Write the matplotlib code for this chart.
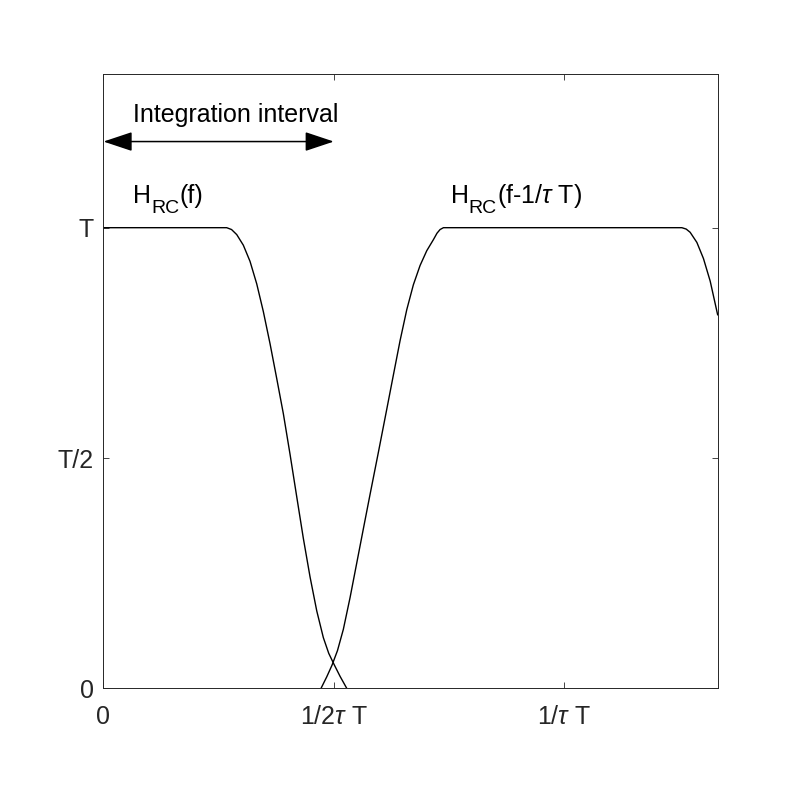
import numpy as np
import matplotlib.pyplot as plt

plt.rcParams['font.family'] = ['Liberation Sans', 'DejaVu Sans']
plt.rcParams['mathtext.fontset'] = 'custom'
plt.rcParams['mathtext.rm'] = 'Liberation Sans'
plt.rcParams['mathtext.it'] = 'Liberation Sans:italic'

# frequency in units of 1/(tau T), amplitude in units of T
f_rc = [0, 0.2675, 0.278, 0.2893, 0.3036, 0.3181, 0.3327, 0.3470, 0.3616, 0.3762,
        0.3905, 0.4050, 0.4195, 0.4338, 0.4484, 0.4630, 0.4773, 0.4890, 0.5005,
        0.5136, 0.5281]
h_rc = [1, 1, 0.996, 0.985, 0.962, 0.927, 0.878, 0.818, 0.748, 0.672,
        0.596, 0.508, 0.416, 0.326, 0.242, 0.168, 0.110, 0.076, 0.052,
        0.026, 0]

f_shift = [0.4723, 0.4847, 0.4960, 0.5080, 0.5207, 0.5353, 0.5498, 0.5641, 0.5787,
           0.5967, 0.6150, 0.6293, 0.6439, 0.6584, 0.6727, 0.6873, 0.7018, 0.7162,
           0.7240, 0.7307, 0.7380,
           1.2556, 1.2650, 1.2736, 1.2882, 1.3025, 1.3171, 1.3333]
h_shift = [0, 0.025, 0.050, 0.082, 0.128, 0.197, 0.272, 0.346, 0.421,
           0.512, 0.606, 0.680, 0.755, 0.822, 0.876, 0.918, 0.950, 0.974,
           0.988, 0.996, 1,
           1, 0.997, 0.990, 0.968, 0.933, 0.884, 0.811]

x_ticks = [0, 0.5, 1]
x_labels = ['0', r'1/2$\tau$ T', r'1/$\tau$ T']
y_ticks = [0, 0.5, 1]
y_labels = ['0', 'T/2', 'T']

fig = plt.figure(figsize=(7.93, 7.93), dpi=100)
ax = fig.add_axes([0.1305, 0.132, 0.7745, 0.7745])

ax.plot(f_rc, h_rc, color='black', linewidth=1.0)
ax.plot(f_shift, h_shift, color='black', linewidth=1.0)

ax.set_xlim(0, 4/3)
ax.set_ylim(0, 4/3)
ax.set_xticks(x_ticks)
ax.set_xticklabels(x_labels)
ax.set_yticks(y_ticks)
ax.set_yticklabels(y_labels)
ax.tick_params(direction='in', length=4.5, width=0.6, color='#262626',
               top=True, right=True, labelsize=18, labelcolor='#262626')
ax.tick_params(axis='x', pad=12)
ax.tick_params(axis='y', pad=7)
for sp in ax.spines.values():
    sp.set_color('#262626')
    sp.set_linewidth(0.7)

# integration interval arrow
ax.annotate('', xy=(0, 1.187), xytext=(0.5, 1.187),
            arrowprops=dict(arrowstyle='<|-|>,head_length=1.8,head_width=0.6',
                            mutation_scale=10, color='black', lw=1.1,
                            shrinkA=0, shrinkB=0))
ax.text(0.064, 1.23, 'Integration interval', fontsize=18, color='black')


def h_label(x, y, rest):
    # H with a large, low subscript the way the TeX interpreter draws it
    ax.text(x, y, 'H', fontsize=18, va='baseline')
    ax.annotate('RC', xy=(x, y), xytext=(13.0, -7.5), textcoords='offset points',
                fontsize=14, va='baseline')
    ax.annotate(rest, xy=(x, y), xytext=(33.4, 0), textcoords='offset points',
                fontsize=18, va='baseline')


h_label(0.064, 1.054, '(f)')
h_label(0.754, 1.054, r'(f-1/$\tau$ T)')

fig.savefig('out.png', dpi=100)
